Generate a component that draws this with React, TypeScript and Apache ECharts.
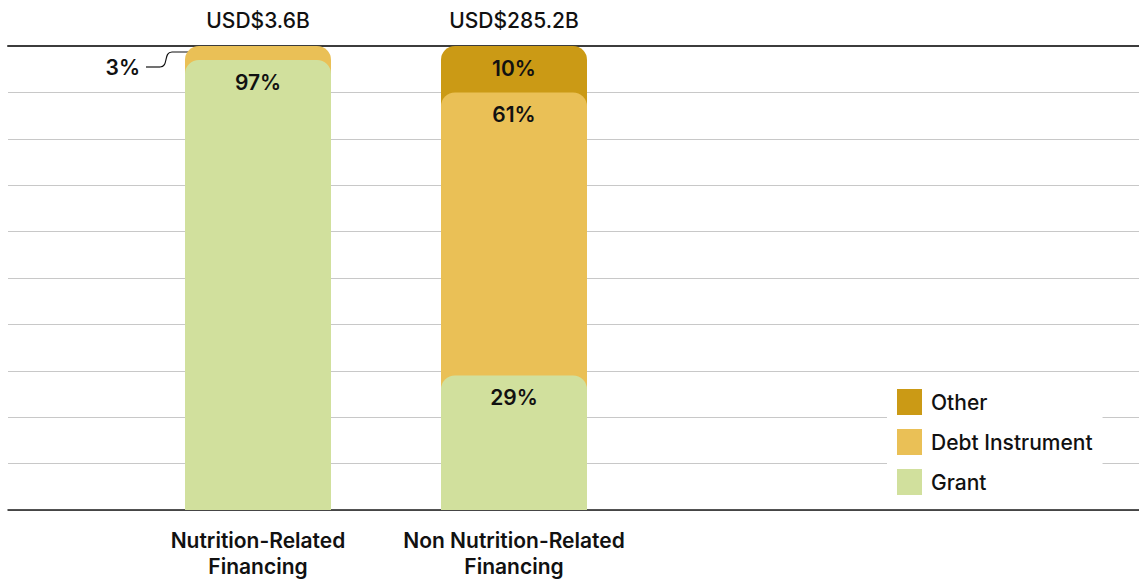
import React, { useEffect, useRef } from "react";
import * as echarts from "echarts";

const categories = ["Nutrition-Related\nFinancing", "Non Nutrition-Related\nFinancing"];
const totalLabels = ["USD$3.6B", "USD$285.2B"];
const grantShare = [97, 29];
const debtShare = [3, 61];
const otherShare = [0, 10];
const seriesNames = ["Other", "Debt Instrument", "Grant"];
const colors = { Other: "#CB9A15", "Debt Instrument": "#EAC056", Grant: "#D1E09D" };

const FONT = "Inter, 'Noto Sans', sans-serif";
const FS = 21;

export default function App() {
  const ref = useRef<HTMLDivElement>(null);
  useEffect(() => {
    if (!ref.current) return;
    const chart = echarts.init(ref.current, undefined, { renderer: "svg" });

    const grantCum = grantShare.map((g) => g);
    const debtCum = grantShare.map((g, i) => g + debtShare[i]);
    const otherCum = grantShare.map((g, i) => g + debtShare[i] + otherShare[i]);

    const pctLabel = {
      show: true,
      position: "insideTop",
      distance: 12,
      fontSize: FS,
      fontWeight: 600,
      color: "#111",
      fontFamily: FONT,
    };

    const mk = (name: string, cum: number[], share: number[]) => ({
      name,
      type: "bar",
      xAxisIndex: 2,
      yAxisIndex: 1,
      barWidth: 146,
      barGap: "-100%",
      itemStyle: { color: (colors as any)[name], borderRadius: [14, 14, 0, 0] },
      label: { ...pctLabel, formatter: (p: any) => share[p.dataIndex] + "%" },
      data: cum.map((v, i) =>
        share[i] > 0
          ? { value: v, label: { show: share[i] >= 5 } }
          : { value: null }
      ),
    });

    const option: any = {
      animation: false,
      textStyle: { fontFamily: FONT },
      grid: [
        { left: 8, right: 0, top: 46, bottom: 70 },
        { left: 130, width: 512, top: 46, bottom: 70 },
      ],
      xAxis: [
        {
          gridIndex: 0, type: "value", min: 0, max: 1, position: "bottom",
          axisLine: { show: true, onZero: false, lineStyle: { color: "#1a1a1a", width: 1.5 } },
          axisTick: { show: false }, axisLabel: { show: false }, splitLine: { show: false },
        },
        {
          gridIndex: 0, type: "value", min: 0, max: 1, position: "top",
          axisLine: { show: true, onZero: false, lineStyle: { color: "#3c3c3c", width: 2 } },
          axisTick: { show: false }, axisLabel: { show: false }, splitLine: { show: false },
        },
        {
          gridIndex: 1, type: "category", data: categories,
          axisLine: { show: false }, axisTick: { show: false },
          axisLabel: {
            interval: 0, fontSize: FS, fontWeight: 600, color: "#111",
            lineHeight: 26, margin: 17, fontFamily: FONT,
          },
        },
      ],
      yAxis: [
        {
          gridIndex: 0, type: "value", min: 0, max: 100, interval: 10,
          axisLine: { show: false }, axisTick: { show: false }, axisLabel: { show: false },
          splitLine: { show: true, lineStyle: { color: "#c8c8c8", width: 1 } },
        },
        { gridIndex: 1, type: "value", min: 0, max: 100, show: false },
      ],
      legend: {
        orient: "vertical",
        left: 887,
        top: 379,
        data: seriesNames,
        icon: "rect",
        itemWidth: 25,
        itemHeight: 26,
        itemGap: 14,
        backgroundColor: "#fff",
        padding: [10, 10, 8, 10],
        textStyle: { fontSize: FS, fontWeight: 500, color: "#111", fontFamily: FONT, padding: [0, 0, 0, 4] },
      },
      series: [
        {
          name: "total",
          type: "bar",
          xAxisIndex: 2,
          yAxisIndex: 1,
          barWidth: 146,
          barGap: "-100%",
          silent: true,
          itemStyle: { color: "rgba(0,0,0,0)" },
          label: {
            show: true, position: "top", distance: 15, fontSize: FS, fontWeight: 500,
            color: "#111", fontFamily: FONT,
            formatter: (p: any) => totalLabels[p.dataIndex],
          },
          data: otherCum,
        },
        mk("Other", otherCum, otherShare),
        mk("Debt Instrument", debtCum, debtShare),
        mk("Grant", grantCum, grantShare),
      ],
      graphic: [
        { type: "line", shape: { x1: 226, y1: 52, x2: 172, y2: 52 }, style: { stroke: "#111", lineWidth: 1.2 } },
        {
          type: "bezierCurve",
          shape: { x1: 172, y1: 52, cpx1: 163, cpy1: 52, cpx2: 169, cpy2: 67, x2: 160, y2: 67 },
          style: { stroke: "#111", lineWidth: 1.2, fill: null },
        },
        { type: "line", shape: { x1: 160, y1: 67, x2: 146, y2: 67 }, style: { stroke: "#111", lineWidth: 1.2 } },
        { type: "circle", shape: { cx: 226, cy: 52, r: 2.6 }, style: { fill: "#111" } },
        {
          type: "text", x: 140, y: 67,
          style: {
            text: debtShare[0] + "%", align: "right", verticalAlign: "middle",
            fontSize: FS, fontWeight: 600, fill: "#111", fontFamily: FONT,
          },
        },
      ],
    };
    chart.setOption(option);
    return () => chart.dispose();
  }, []);
  return (
    <div
      ref={ref}
      style={{ position: "absolute", left: 0, top: 0, width: 1139, height: 580, background: "#fff" }}
    />
  );
}
